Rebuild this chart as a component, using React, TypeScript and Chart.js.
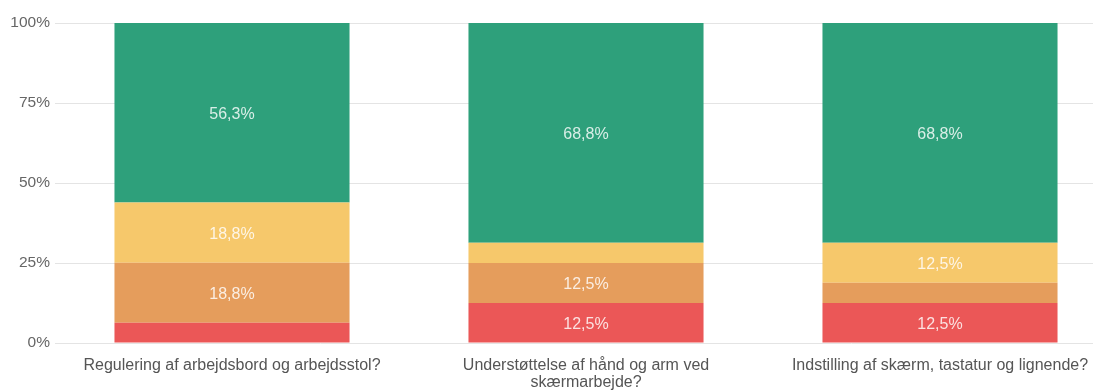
import React, { useEffect, useRef } from "react";
import { Chart, registerables } from "chart.js";

Chart.register(...registerables);

const categories: string[][] = [
  ["Regulering af arbejdsbord og arbejdsstol?"],
  ["Understøttelse af hånd og arm ved", "skærmarbejde?"],
  ["Indstilling af skærm, tastatur og lignende?"],
];
const redValues = [6.3, 12.5, 12.5];
const orangeValues = [18.8, 12.5, 6.3];
const yellowValues = [18.8, 6.3, 12.5];
const greenValues = [56.3, 68.8, 68.8];
const yTicks = [0, 25, 50, 75, 100];

const FONT = "'Liberation Sans', Arial, sans-serif";

const labelPlugin = {
  id: "segLabels",
  afterDatasetsDraw(chart: any) {
    const ctx = chart.ctx;
    ctx.save();
    ctx.font = `16px ${FONT}`;
    ctx.fillStyle = "rgba(255,255,255,0.82)";
    ctx.textAlign = "center";
    ctx.textBaseline = "middle";
    chart.data.datasets.forEach((ds: any, di: number) => {
      const meta = chart.getDatasetMeta(di);
      meta.data.forEach((el: any, i: number) => {
        const v = ds.data[i];
        if (v < 10) return;
        const p = el.getProps(["x", "y", "base"], true);
        const txt = v.toFixed(1).replace(".", ",") + "%";
        ctx.fillText(txt, p.x, (p.y + p.base) / 2 + 2);
      });
    });
    ctx.restore();
  },
};

export default function App() {
  const ref = useRef<HTMLCanvasElement | null>(null);
  useEffect(() => {
    if (!ref.current) return;
    const mk = (label: string, data: number[], color: string) => ({
      label,
      data,
      backgroundColor: color,
      borderWidth: 0,
      categoryPercentage: 1,
      barPercentage: 0.664,
    });
    const chart = new Chart(ref.current, {
      type: "bar",
      data: {
        labels: categories,
        datasets: [
          mk("red", redValues, "rgb(235,87,87)"),
          mk("orange", orangeValues, "rgb(229,157,92)"),
          mk("yellow", yellowValues, "rgb(246,200,107)"),
          mk("green", greenValues, "rgb(46,160,123)"),
        ],
      },
      options: {
        animation: false,
        responsive: false,
        maintainAspectRatio: false,
        layout: { padding: { top: 15, right: 0, bottom: 0, left: 0 } },
        plugins: { legend: { display: false }, tooltip: { enabled: false } },
        scales: {
          x: {
            stacked: true,
            grid: { display: false },
            border: { display: false },
            ticks: {
              color: "#555",
              font: { family: FONT, size: 16, lineHeight: 1.07 },
              maxRotation: 0,
              autoSkip: false,
              padding: 6,
            },
            afterFit: (s: any) => {
              s.height = 48;
            },
          },
          y: {
            stacked: true,
            min: 0,
            max: 100,
            afterBuildTicks: (s: any) => {
              s.ticks = yTicks.map((v) => ({ value: v }));
            },
            grid: { color: "#e4e4e4", lineWidth: 1, drawTicks: false },
            border: { display: false },
            ticks: {
              color: "#666",
              font: { family: FONT, size: 15.5 },
              padding: 5,
              callback: (v: any) => v + "%",
            },
            afterFit: (s: any) => {
              s.width = 47;
            },
          },
        },
      },
      plugins: [labelPlugin],
    });
    return () => chart.destroy();
  }, []);
  return (
    <div style={{ width: 1093, height: 383, overflow: "hidden", position: "relative" }}>
      <canvas ref={ref} width={1109} height={383} style={{ display: "block" }} />
    </div>
  );
}
